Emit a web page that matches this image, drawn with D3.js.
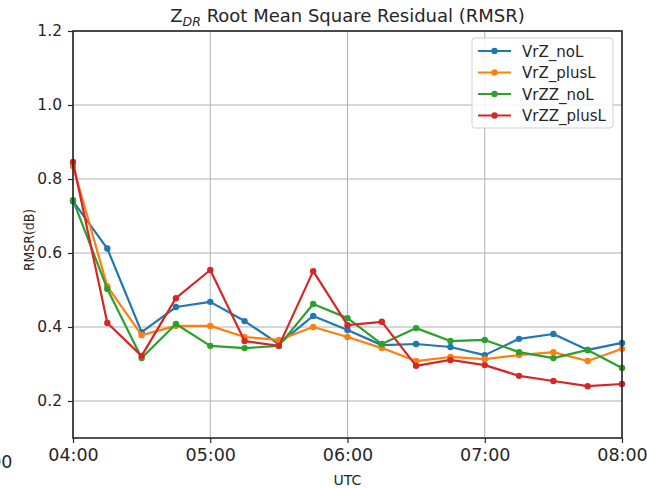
<!DOCTYPE html>
<html>
<head>
<meta charset="utf-8">
<script src="https://cdn.jsdelivr.net/npm/d3@7"></script>
<style>
  body { margin: 0; background: #fff; }
  text { font-family: 'DejaVu Sans', sans-serif; fill: #262626; }
</style>
</head>
<body>
<div id="chart"></div>
<script>
// times are minutes after 04:00 UTC
const TIMES = [0, 15, 30, 45, 60, 75, 90, 105, 120, 135, 150, 165, 180, 195, 210, 225, 240]
const X_TICKS = [0, 60, 120, 180, 240]
const Y_TICKS = [0.2, 0.4, 0.6, 0.8, 1.0, 1.2]

const SERIES_NAMES = ['VrZ_noL', 'VrZ_plusL', 'VrZZ_noL', 'VrZZ_plusL']
const VrZ_noL    = [0.74, 0.612, 0.386, 0.454, 0.468, 0.416, 0.354, 0.43, 0.392, 0.351, 0.354, 0.346, 0.324, 0.368, 0.381, 0.338, 0.357]
const VrZ_plusL  = [0.835, 0.51, 0.378, 0.403, 0.403, 0.373, 0.365, 0.40, 0.373, 0.343, 0.308, 0.319, 0.313, 0.324, 0.332, 0.308, 0.341]
const VrZZ_noL   = [0.743, 0.503, 0.316, 0.408, 0.349, 0.343, 0.349, 0.462, 0.424, 0.354, 0.397, 0.362, 0.365, 0.332, 0.316, 0.338, 0.289]
const VrZZ_plusL = [0.846, 0.411, 0.322, 0.478, 0.554, 0.362, 0.349, 0.551, 0.405, 0.414, 0.295, 0.311, 0.297, 0.268, 0.254, 0.24, 0.246]

const COLORS = {
  VrZ_noL:    '#1f77b4',
  VrZ_plusL:  '#ff7f0e',
  VrZZ_noL:   '#2ca02c',
  VrZZ_plusL: '#d62728',
}

const W = 647, H = 489
const MARGIN = { top: 31, right: 25, bottom: 51, left: 73 }
const iw = W - MARGIN.left - MARGIN.right
const ih = H - MARGIN.top - MARGIN.bottom

const fmtTime = m => `${String(4 + Math.floor(m / 60)).padStart(2, '0')}:${String(m % 60).padStart(2, '0')}`

const svg = d3.select('#chart').append('svg')
  .attr('width', W).attr('height', H)

const g = svg.append('g').attr('transform', `translate(${MARGIN.left},${MARGIN.top})`)

const x = d3.scaleLinear().domain([0, 240]).range([0, iw])
const y = d3.scaleLinear().domain([0.1, 1.2]).range([ih, 0])

// ── grid ─────────────────────────────────────────────────────
g.append('g').selectAll('line').data(X_TICKS).join('line')
  .attr('x1', d => x(d)).attr('x2', d => x(d))
  .attr('y1', 0).attr('y2', ih)
  .attr('stroke', '#b0b0b0').attr('stroke-width', 1)
g.append('g').selectAll('line').data(Y_TICKS).join('line')
  .attr('x1', 0).attr('x2', iw)
  .attr('y1', d => y(d)).attr('y2', d => y(d))
  .attr('stroke', '#b0b0b0').attr('stroke-width', 1)

// ── lines ────────────────────────────────────────────────────
const seriesData = { VrZ_noL, VrZ_plusL, VrZZ_noL, VrZZ_plusL }
const line = d3.line().x((d, i) => x(TIMES[i])).y(d => y(d))

SERIES_NAMES.forEach(name => {
  const vals = seriesData[name]
  const sg = g.append('g')
  sg.append('path')
    .attr('d', line(vals))
    .attr('fill', 'none')
    .attr('stroke', COLORS[name])
    .attr('stroke-width', 2.2)
    .attr('stroke-linejoin', 'round')
  sg.selectAll('circle').data(vals).join('circle')
    .attr('cx', (d, i) => x(TIMES[i]))
    .attr('cy', d => y(d))
    .attr('r', 3.2)
    .attr('fill', COLORS[name])
})

// ── axes ─────────────────────────────────────────────────────
const xAxis = g.append('g').attr('transform', `translate(0,${ih})`)
  .call(d3.axisBottom(x).tickValues(X_TICKS).tickFormat(fmtTime).tickSize(5).tickPadding(6))
xAxis.selectAll('text').style('font-size', '17.5px').attr('fill', '#262626')

const yAxis = g.append('g')
  .call(d3.axisLeft(y).tickValues(Y_TICKS).tickFormat(d3.format('.1f')).tickSize(5).tickPadding(6))
yAxis.selectAll('text').style('font-size', '15.5px').attr('fill', '#262626')

g.selectAll('.domain').remove()
g.selectAll('.tick line').attr('stroke', '#262626').attr('stroke-width', 1.2)

// neighbour tick label that the original figure cuts at its left edge
svg.append('text')
  .attr('x', 12.5).attr('y', MARGIN.top + ih + 30)
  .attr('text-anchor', 'end')
  .style('font-size', '17.5px')
  .text('03:00')

// frame
g.append('rect')
  .attr('width', iw).attr('height', ih)
  .attr('fill', 'none').attr('stroke', '#262626').attr('stroke-width', 1.6)

// ── labels ───────────────────────────────────────────────────
svg.append('text')
  .attr('x', MARGIN.left + iw / 2).attr('y', H - 4)
  .attr('text-anchor', 'middle')
  .style('font-size', '14px')
  .text('UTC')

svg.append('text')
  .attr('transform', `translate(34,240) rotate(-90) scale(0.86,1)`)
  .attr('text-anchor', 'middle')
  .style('font-size', '14.5px')
  .text('RMSR(dB)')

const title = svg.append('text')
  .attr('x', MARGIN.left + iw / 2).attr('y', 22)
  .attr('text-anchor', 'middle')
  .style('font-size', '18px')
title.append('tspan').text('Z')
title.append('tspan').attr('dy', 4).style('font-size', '12.5px').style('font-style', 'italic').text('DR')
title.append('tspan').attr('dy', -4).text(' Root Mean Square Residual (RMSR)')

// ── legend ───────────────────────────────────────────────────
const legend = svg.append('g').attr('transform', `translate(${MARGIN.left + iw - 150},${MARGIN.top + 7})`)
legend.append('rect')
  .attr('width', 141).attr('height', 90).attr('rx', 3)
  .attr('fill', '#fff').attr('fill-opacity', 0.85)
  .attr('stroke', '#d0d0d0')
SERIES_NAMES.forEach((name, i) => {
  const row = legend.append('g').attr('transform', `translate(6,${13 + i * 21.5})`)
  row.append('line').attr('x1', 0).attr('x2', 33)
    .attr('stroke', COLORS[name]).attr('stroke-width', 2.2)
  row.append('circle').attr('cx', 16.5).attr('r', 3.2).attr('fill', COLORS[name])
  row.append('text').attr('x', 44).attr('y', 5.5)
    .style('font-size', '15px').text(name)
})
</script>
</body>
</html>
